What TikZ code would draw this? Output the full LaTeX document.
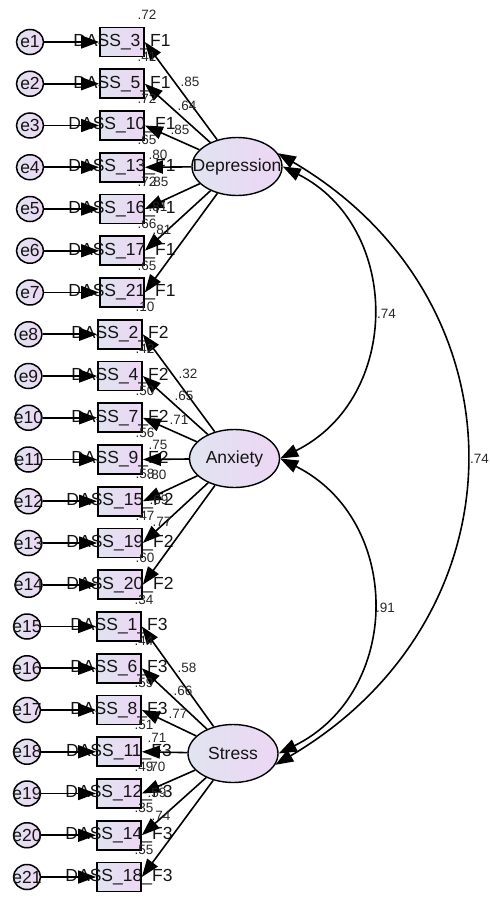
\documentclass[tikz,border=0pt]{standalone}
\usepackage{fontspec}
\setmainfont{Liberation Sans}
\usetikzlibrary{arrows.meta,shapes.geometric}
\definecolor{fillL}{RGB}{224,228,240}
\definecolor{fillR}{RGB}{237,214,244}
\definecolor{numcol}{RGB}{40,40,40}
\definecolor{txtcol}{RGB}{20,20,20}
\begin{document}
\begin{tikzpicture}[x=1pt,y=-1pt,
  bigtxt/.style={font=\fontsize{17.5}{18}\selectfont, text=txtcol},
  errc/.style={ellipse, draw, line width=1.5pt, minimum width=27pt, minimum height=25pt, inner sep=0pt, left color=fillL, right color=fillR, bigtxt},
  obs/.style={rectangle, draw, line width=1.7pt, minimum width=44pt, minimum height=29pt, inner sep=0pt, left color=fillL, right color=fillR, bigtxt},
  lat/.style={ellipse, draw, line width=1.4pt, minimum width=90pt, minimum height=58pt, inner sep=0pt, left color=fillL, right color=fillR, bigtxt},
  num/.style={font=\fontsize{13.5}{14}\selectfont, text=numcol, inner sep=0pt},
  tip/.tip={Triangle[length=18pt,width=13pt]},
  pth/.style={line width=1.6pt, -tip},
  cov/.style={line width=1.6pt, tip-tip},
]
\useasboundingbox (0,0) rectangle (490,897);

% latent variables
\node[lat] (D) at (237,166.5) {\makebox[0pt]{Depression}};
\node[lat] (A) at (234.5,458.5) {\makebox[0pt]{Anxiety}};
\node[lat] (S) at (233,753.5) {\makebox[0pt]{Stress}};

% indicators
\foreach \i/\nm/\fac/\cx/\bx/\rsq/\lo/\px/\py/\lv in {
1/3/1/30/122/.72/.85/190/82/D,
2/5/1/30/122/.41/.64/187/106/D,
3/10/1/30/122/.72/.85/180/130/D,
4/13/1/30/122/.65/.80/158/155/D,
5/16/1/30/122/.72/.85/159/182/D,
6/17/1/30/122/.66/.81/158/207/D,
7/21/1/30/122/.65/.81/162/230/D,
8/2/2/28.5/120/.10/.32/188/374/A,
9/4/2/28.5/120/.42/.65/184/396/A,
10/7/2/28.5/120/.50/.71/179/420/A,
11/9/2/28.5/120/.56/.75/158/445/A,
12/15/2/28.5/120/.58/.80/157/475/A,
13/19/2/28.5/120/.47/.69/159/500/A,
14/20/2/28.5/120/.60/.77/162/522/A,
15/1/3/27/119/.34/.58/187/668/S,
16/6/3/27/119/.44/.66/183/691/S,
17/8/3/27/119/.59/.77/178/714/S,
18/11/3/27/119/.51/.71/157/738/S,
19/12/3/27/119/.49/.70/156/767/S,
20/14/3/27/119/.35/.59/157/793/S,
21/18/3/27/119/.55/.74/161/816/S}
{
  \pgfmathsetmacro\yy{42+(\i-1)*41.75}
  \node[errc] (e\i) at (\cx,\yy) {\makebox[0pt]{e\i}};
  \node[obs] (b\i) at (\bx,\yy) {\makebox[0pt]{DASS\_\nm\_F\fac}};
  \draw[pth] (e\i) -- (b\i);
  \draw[pth] (\lv) -- (b\i.east);
  \node[num] (r\i) at (\bx+25,\yy-27) {\rsq};
  \node[num] (l\i) at (\px,\py) {\lo};
}

% covariances
\draw[cov] (D.east) .. controls (402,227) and (402,398) .. (A.east);
\draw[cov] (A.east) .. controls (403,520) and (403,692) .. (S.east);
\draw[cov] (D.18) .. controls (528,300) and (528,616) .. (S.-15);
\node[num, anchor=west] (c1) at (377,313.5) {.74};
\node[num, anchor=west] (c2) at (470,458.5) {.74};
\node[num, anchor=west] (c3) at (376,607.5) {.91};
\end{tikzpicture}
\end{document}
